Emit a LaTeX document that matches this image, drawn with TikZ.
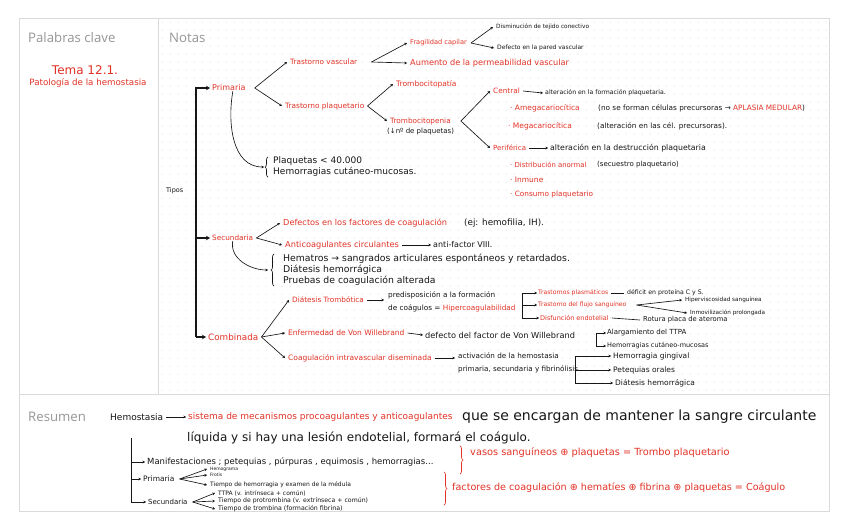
\documentclass[tikz,border=0pt]{standalone}
\usepackage{fontspec}
\setmainfont{DejaVu Sans}
\newfontfamily\headfont{Open Sans}
\usepackage{tikz}
\usetikzlibrary{arrows.meta, calc, decorations.pathreplacing}
\definecolor{ink}{RGB}{22,22,22}
\definecolor{hred}{RGB}{226,50,38}
\definecolor{headgray}{RGB}{150,150,150}
\definecolor{framegray}{RGB}{218,218,218}
\definecolor{dotgray}{RGB}{200,200,200}
\tikzset{
  txt/.style={inner sep=0pt, anchor=west, text=ink},
  rtxt/.style={txt, text=hred},
  fs/.style={font=\fontsize{#1}{#1}\selectfont},
  fsl/.style 2 args={font=\fontsize{#1}{#2}\selectfont, align=left},
  head/.style={inner sep=0pt, anchor=west, text=headgray, font=\headfont\fontsize{13.2}{15}\selectfont},
  arr/.style={-{Stealth[length=2.6pt, width=2.8pt]}, line width=0.65pt, draw=ink},
  ln/.style={line width=0.65pt, draw=ink},
  tarr/.style={-{Stealth[length=4pt, width=4.5pt]}, line width=1.6pt, draw=ink},
  brc/.style={decorate, decoration={brace, amplitude=3pt}, line width=0.65pt, draw=ink},
  rbrc/.style={brc, draw=hred},
}
\begin{document}
\begin{tikzpicture}[x=1pt, y=-1pt]
\useasboundingbox (0,0) rectangle (848,530);
\fill[white] (0,0) rectangle (848,530);
\foreach \x in {162,170,...,826}
  \foreach \y in {22,30,...,390}
    \fill[dotgray] (\x,\y) circle (0.5pt);
\draw[framegray, line width=0.8pt] (19,18) rectangle (829,511);
\draw[framegray, line width=0.8pt] (158,18) -- (158,394);
\draw[framegray, line width=0.8pt] (19,394) -- (829,394);

\node[head] (palabras) at (28,38) {Palabras clave};
\node[head] (notas) at (169,38) {Notas};
\node[head] (resumen) at (28,417) {Resumen};
\node[rtxt, fs=12, anchor=center] (tema) at (85,70) {Tema 12.1.};
\node[rtxt, fs=8.7, anchor=center] (patologia) at (88,83) {Patología de la hemostasia};

\node[txt, fs=6.5] (tipos) at (166,191) {Tipos};
\node[rtxt, fs=8] (prim) at (212,88) {Primaria};
\node[rtxt, fs=7.3] (tvas) at (290,62) {Trastorno vascular};
\node[rtxt, fs=7.4] (tplq) at (285,106) {Trastorno plaquetario};
\node[rtxt, fs=6.6] (frag) at (410,43) {Fragilidad capilar};
\node[txt, fs=5.8] (dism) at (496,27) {Disminución de tejido conectivo};
\node[txt, fs=6] (defp) at (497,48) {Defecto en la pared vascular};
\node[rtxt, fs=8.2] (aum) at (410,63) {Aumento de la permeabilidad vascular};
\node[rtxt, fs=7.5] (tpat) at (396,84) {Trombocitopatía};
\node[rtxt, fs=7.3] (tpen) at (390,121) {Trombocitopenia};
\node[txt, fs=7] (tpenN) at (387,132) {(↓nº de plaquetas)};
\node[rtxt, fs=7.3] (cen) at (493,91) {Central};
\node[txt, fs=6.2] (cenD) at (545,93) {alteración en la formación plaquetaria.};
\node[rtxt, fs=7.5] (ameg) at (510,108) {· Amegacariocítica};
\node[txt, fs=7.3] (amegD) at (598,108) {(no se forman células precursoras → \textcolor{hred}{APLASIA MEDULAR})};
\node[rtxt, fs=7.5] (mega) at (508,126) {· Megacariocítica};
\node[txt, fs=7.3] (megaD) at (597,126) {(alteración en las cél. precursoras).};
\node[rtxt, fs=7] (peri) at (493,148) {Periférica};
\node[txt, fs=7.8] (periD) at (550,148) {alteración en la destrucción plaquetaria};
\node[rtxt, fs=6.9] (dist) at (510,165) {· Distribución anormal};
\node[txt, fs=7] (distD) at (597,165) {(secuestro plaquetario)};
\node[rtxt, fs=7.5] (inm) at (510,180) {· Inmune};
\node[rtxt, fs=7.3] (cons) at (510,194) {· Consumo plaquetario};
\node[txt, fsl={9}{11}] (plq) at (273,167) {Plaquetas < 40.000\\Hemorragias cutáneo-mucosas.};

\node[rtxt, fs=7.3] (sec) at (212,238) {Secundaria};
\node[rtxt, fs=8.2] (defc) at (283,223) {Defectos en los factores de coagulación};
\node[txt, fs=8.8] (defcD) at (464,223) {(ej: hemofilia, IH).};
\node[rtxt, fs=8.2] (antc) at (285,245) {Anticoagulantes circulantes};
\node[txt, fs=8] (antcD) at (433,245) {anti-factor VIII.};
\node[txt, fsl={9.3}{11}] (sinto) at (283,270) {Hematros → sangrados articulares espontáneos y retardados.\\Diátesis hemorrágica\\Pruebas de coagulación alterada};

\node[rtxt, fs=8.8] (comb) at (208,337) {Combinada};
\node[rtxt, fs=7.3] (diat) at (292,300) {Diátesis Trombótica};
\node[txt, fsl={7.3}{13}] (diatD) at (388,302) {predisposición a la formación\\de coágulos = \textcolor{hred}{Hipercoagulabilidad}};
\node[rtxt, fs=6.1] (tpla) at (538,293) {Trastornos plasmáticos};
\node[txt, fs=6.2] (tplaD) at (627,293) {déficit en proteína C y S.};
\node[rtxt, fs=6.1] (tflu) at (538,305) {Trastorno del flujo sanguíneo};
\node[txt, fs=5.7] (hipv) at (685,300) {Hiperviscosidad sanguínea};
\node[txt, fs=5.7] (inmo) at (690,313) {Inmovilización prolongada};
\node[rtxt, fs=6.5] (disf) at (540,318) {Disfunción endotelial};
\node[txt, fs=6.8] (disfD) at (643,320) {Rotura placa de ateroma};
\node[rtxt, fs=7.5] (vwb) at (288,333) {Enfermedad de Von Willebrand};
\node[txt, fs=8.2] (vwbD) at (425,335) {defecto del factor de Von Willebrand};
\node[txt, fs=7] (alar) at (607,333) {Alargamiento del TTPA};
\node[txt, fs=6.5] (hcm) at (607,346) {Hemorragias cutáneo-mucosas};
\node[rtxt, fs=7.5] (cid) at (288,358) {Coagulación intravascular diseminada};
\node[txt, fsl={7.2}{13}] (cidD) at (458,363) {activación de la hemostasia\\primaria, secundaria y fibrinólisis};
\node[txt, fs=7.5] (hgin) at (613,356) {Hemorragia gingival};
\node[txt, fs=7.5] (peto) at (613,370) {Petequias orales};
\node[txt, fs=7.5] (dhem) at (615,383) {Diátesis hemorrágica};

\node[txt, fs=9] (hemo) at (110,417) {Hemostasia};
\node[rtxt, fs=9] (sist) at (188,417) {sistema de mecanismos procoagulantes y anticoagulantes};
\node[txt, fs=14] (sistB) at (462,417) {que se encargan de mantener la sangre circulante};
\node[txt, fs=12] (sist2) at (187,438) {líquida y si hay una lesión endotelial, formará el coágulo.};
\node[txt, fs=8.5] (rman) at (147,462) {Manifestaciones ; petequias , púrpuras , equimosis , hemorragias...};
\node[txt, fs=7.5] (rpri) at (143,479) {Primaria};
\node[txt, fs=4.5] (rhg) at (210,469) {Hemograma};
\node[txt, fs=4.5] (rfr) at (210,475) {Frotis};
\node[txt, fs=6] (rth) at (210,485) {Tiempo de hemorragia y examen de la médula};
\node[txt, fs=7] (rsec) at (148,502) {Secundaria};
\node[txt, fs=6] (rttpa) at (218,493) {TTPA (v. intrínseca + común)};
\node[txt, fs=6.2] (rtp) at (218,501) {Tiempo de protrombina (v. extrínseca + común)};
\node[txt, fs=6.3] (rtt) at (218,509) {Tiempo de trombina (formación fibrina)};
\node[rtxt, fs=9.8] (rvas) at (470,453) {vasos sanguíneos ⊕ plaquetas = Trombo plaquetario};
\node[rtxt, fs=9.6] (rfac) at (452,488) {factores de coagulación ⊕ hematíes ⊕ fibrina ⊕ plaquetas = Coágulo};

\coordinate (eje) at (196,337);
\draw[tarr] (eje) |- ([xshift=-2pt]prim.west);
\draw[tarr] (eje |- sec.west) -- ([xshift=-2pt]sec.west);
\draw[tarr] (eje) -- ([xshift=-2pt]comb.west);

\foreach \from/\to/\gap in {prim/tvas/9, prim/tplq/9, tvas/frag/14, tvas/aum/14, frag/dism/4, frag/defp/4, tplq/tpat/3, tplq/tpen/3, tpen/cen/10, tpen/peri/10, sec/defc/3, sec/antc/3, comb/diat/3, comb/vwb/3, comb/cid/3, tflu/hipv/10, tflu/inmo/10, rpri/rhg/5, rpri/rfr/5, rpri/rth/5, rsec/rttpa/5, rsec/rtp/5, rsec/rtt/5}
  \draw[arr] ([xshift=\gap pt]\from.east) -- ([xshift=-3pt]\to.west);
\foreach \from/\to in {cen/cenD, peri/periD, antc/antcD, vwb/vwbD, hemo/sist}
  \draw[arr] ([xshift=3pt]\from.east) -- ([xshift=-2pt]\to.west);
\draw[arr] ([xshift=3pt]diat.east) -- ([xshift=-4pt]diat.east -| diatD.west);
\draw[arr] ([xshift=3pt]cid.east) -- ([xshift=-3pt]cid.east -| cidD.west);
\foreach \from/\to in {tpla/tplaD, disf/disfD}
  \draw[ln] ([xshift=3pt]\from.east) -- ([xshift=-3pt]\to.west);

\coordinate (eDT) at (522,305);
\draw[ln] (eDT |- tpla.west) -- (eDT |- disf.west);
\foreach \to in {tpla, tflu, disf}
  \draw[arr] (eDT |- \to.west) -- ([xshift=-1pt]\to.west);
\coordinate (eVW) at (596,340);
\draw[ln] (eVW |- alar.west) -- (eVW |- hcm.west);
\foreach \to in {alar, hcm}
  \draw[arr] (eVW |- \to.west) -- ([xshift=-1pt]\to.west);
\coordinate (eCI) at (575,370);
\draw[ln] (eCI |- hgin.west) -- (eCI |- dhem.west);
\foreach \to in {hgin, peto, dhem}
  \draw[arr] (eCI |- \to.west) -- ([xshift=-2pt]\to.west);

\coordinate (rv) at (131,438);
\draw[arr] (rv) |- ([xshift=-2pt]rsec.west);
\foreach \to in {rman, rpri}
  \draw[arr] (rv |- \to.west) -- ([xshift=-2pt]\to.west);

\draw[arr] ([xshift=4pt]prim.south) to[out=-100, in=180] ([xshift=-9pt]plq.west);
\draw[brc] ([xshift=-5pt]plq.south west) -- ([xshift=-5pt]plq.north west);
\draw[arr] (sec.south) to[out=-100, in=180] ([xshift=-15pt]sinto.west);
\draw[brc] ([xshift=-9pt]sinto.south west) -- ([xshift=-9pt]sinto.north west);
\draw[rbrc] ([xshift=-10pt, yshift=2pt]rvas.north west) -- ([xshift=-10pt, yshift=-16pt]rvas.south west);
\draw[rbrc] ([xshift=-8pt, yshift=11pt]rfac.north west) -- ([xshift=-8pt, yshift=-12pt]rfac.south west);
\end{tikzpicture}
\end{document}
